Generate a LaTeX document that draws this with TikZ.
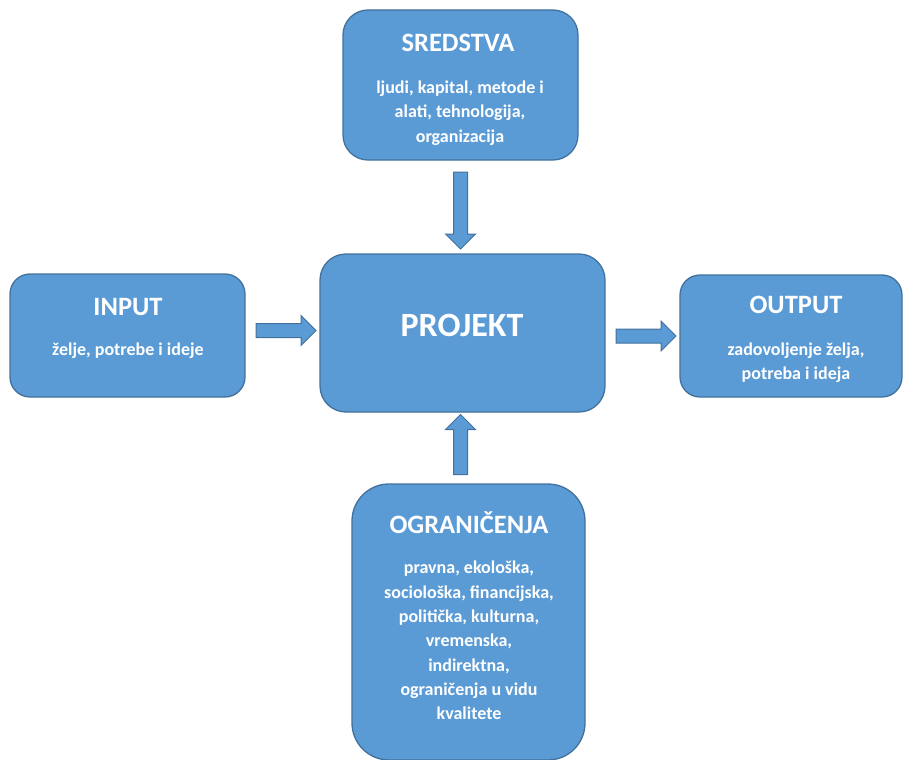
\documentclass[tikz,border=0pt]{standalone}
\usepackage{fontspec}
\setmainfont{Carlito}
\usepackage{xcolor}
\usepackage{tikz}
\usetikzlibrary{shapes.arrows}
\definecolor{boxblue}{HTML}{5B9BD5}
\definecolor{boxline}{HTML}{41719C}

\begin{document}
\begin{tikzpicture}[x=1pt,y=-1pt,
    box/.style={draw=boxline,fill=boxblue,line width=1.3pt,rectangle,inner sep=0pt},
    title/.style={text=white,font=\bfseries\fontsize{26.5}{30}\selectfont},
    body/.style={text=white,align=center,font=\bfseries\fontsize{18}{24.3}\selectfont},
    blockarrow/.style={single arrow,draw=boxline,fill=boxblue,line width=1pt,
      inner xsep=0pt,inner ysep=6.5pt,minimum width=29pt,
      single arrow head extend=8pt,minimum height=#1,sloped,allow upside down}]
      \useasboundingbox (0,0) rectangle (903,760);
      \node[box,minimum width=235pt,minimum height=150pt,rounded corners=25pt] (sred) at (460.5,85) {};
      \node[box,minimum width=235pt,minimum height=123pt,rounded corners=20pt] (inp) at (127.5,335.5) {};
      \node[box,minimum width=285pt,minimum height=158pt,rounded corners=26pt] (proj) at (462.5,333) {};
      \node[box,minimum width=222pt,minimum height=122pt,rounded corners=20pt] (out) at (791,336) {};
      \node[box,minimum width=233pt,minimum height=276pt,rounded corners=37pt] (ogr) at (468.5,622) {};
        % naslovi i opisi
      \node[title] (sredT) at (458,43) {SREDSTVA};
      \node[body] (sredB) at (460,113) {ljudi, kapital, metode i\\alati, tehnologija,\\organizacija};
      \node[title] (inpT) at (128,307) {INPUT};
      \node[body] (inpB) at (128,351) {želje, potrebe i ideje};
      \node[title,font=\bfseries\fontsize{34}{38}\selectfont] (projT) at (462,325) {PROJEKT};
      \node[title] (outT) at (796,305) {OUTPUT};
      \node[body] (outB) at (796,362.5) {zadovoljenje želja,\\potreba i ideja};
      \node[title] (ogrT) at (469,523) {OGRANIČENJA};
      \node[body] (ogrB) at (469,640.5) {pravna, ekološka,\\sociološka, financijska,\\politička, kulturna,\\vremenska,\\indirektna,\\ograničenja u vidu\\kvalitete};
        % strelice
      \path (sred.south) -- (sred.south |- proj.north) node[midway,blockarrow=77pt] (a1) {};
      \path ([yshift=5pt]inp.east) -- ([yshift=5pt]inp.east -| proj.west) node[midway,blockarrow=60pt] (a2) {};
      \path (proj.east |- out.west) -- (out.west) node[midway,blockarrow=60pt] (a3) {};
      \path (ogr.north -| a1) -- (proj.south -| a1) node[midway,blockarrow=60pt] (a4) {};
    \end{tikzpicture}
\end{document}
